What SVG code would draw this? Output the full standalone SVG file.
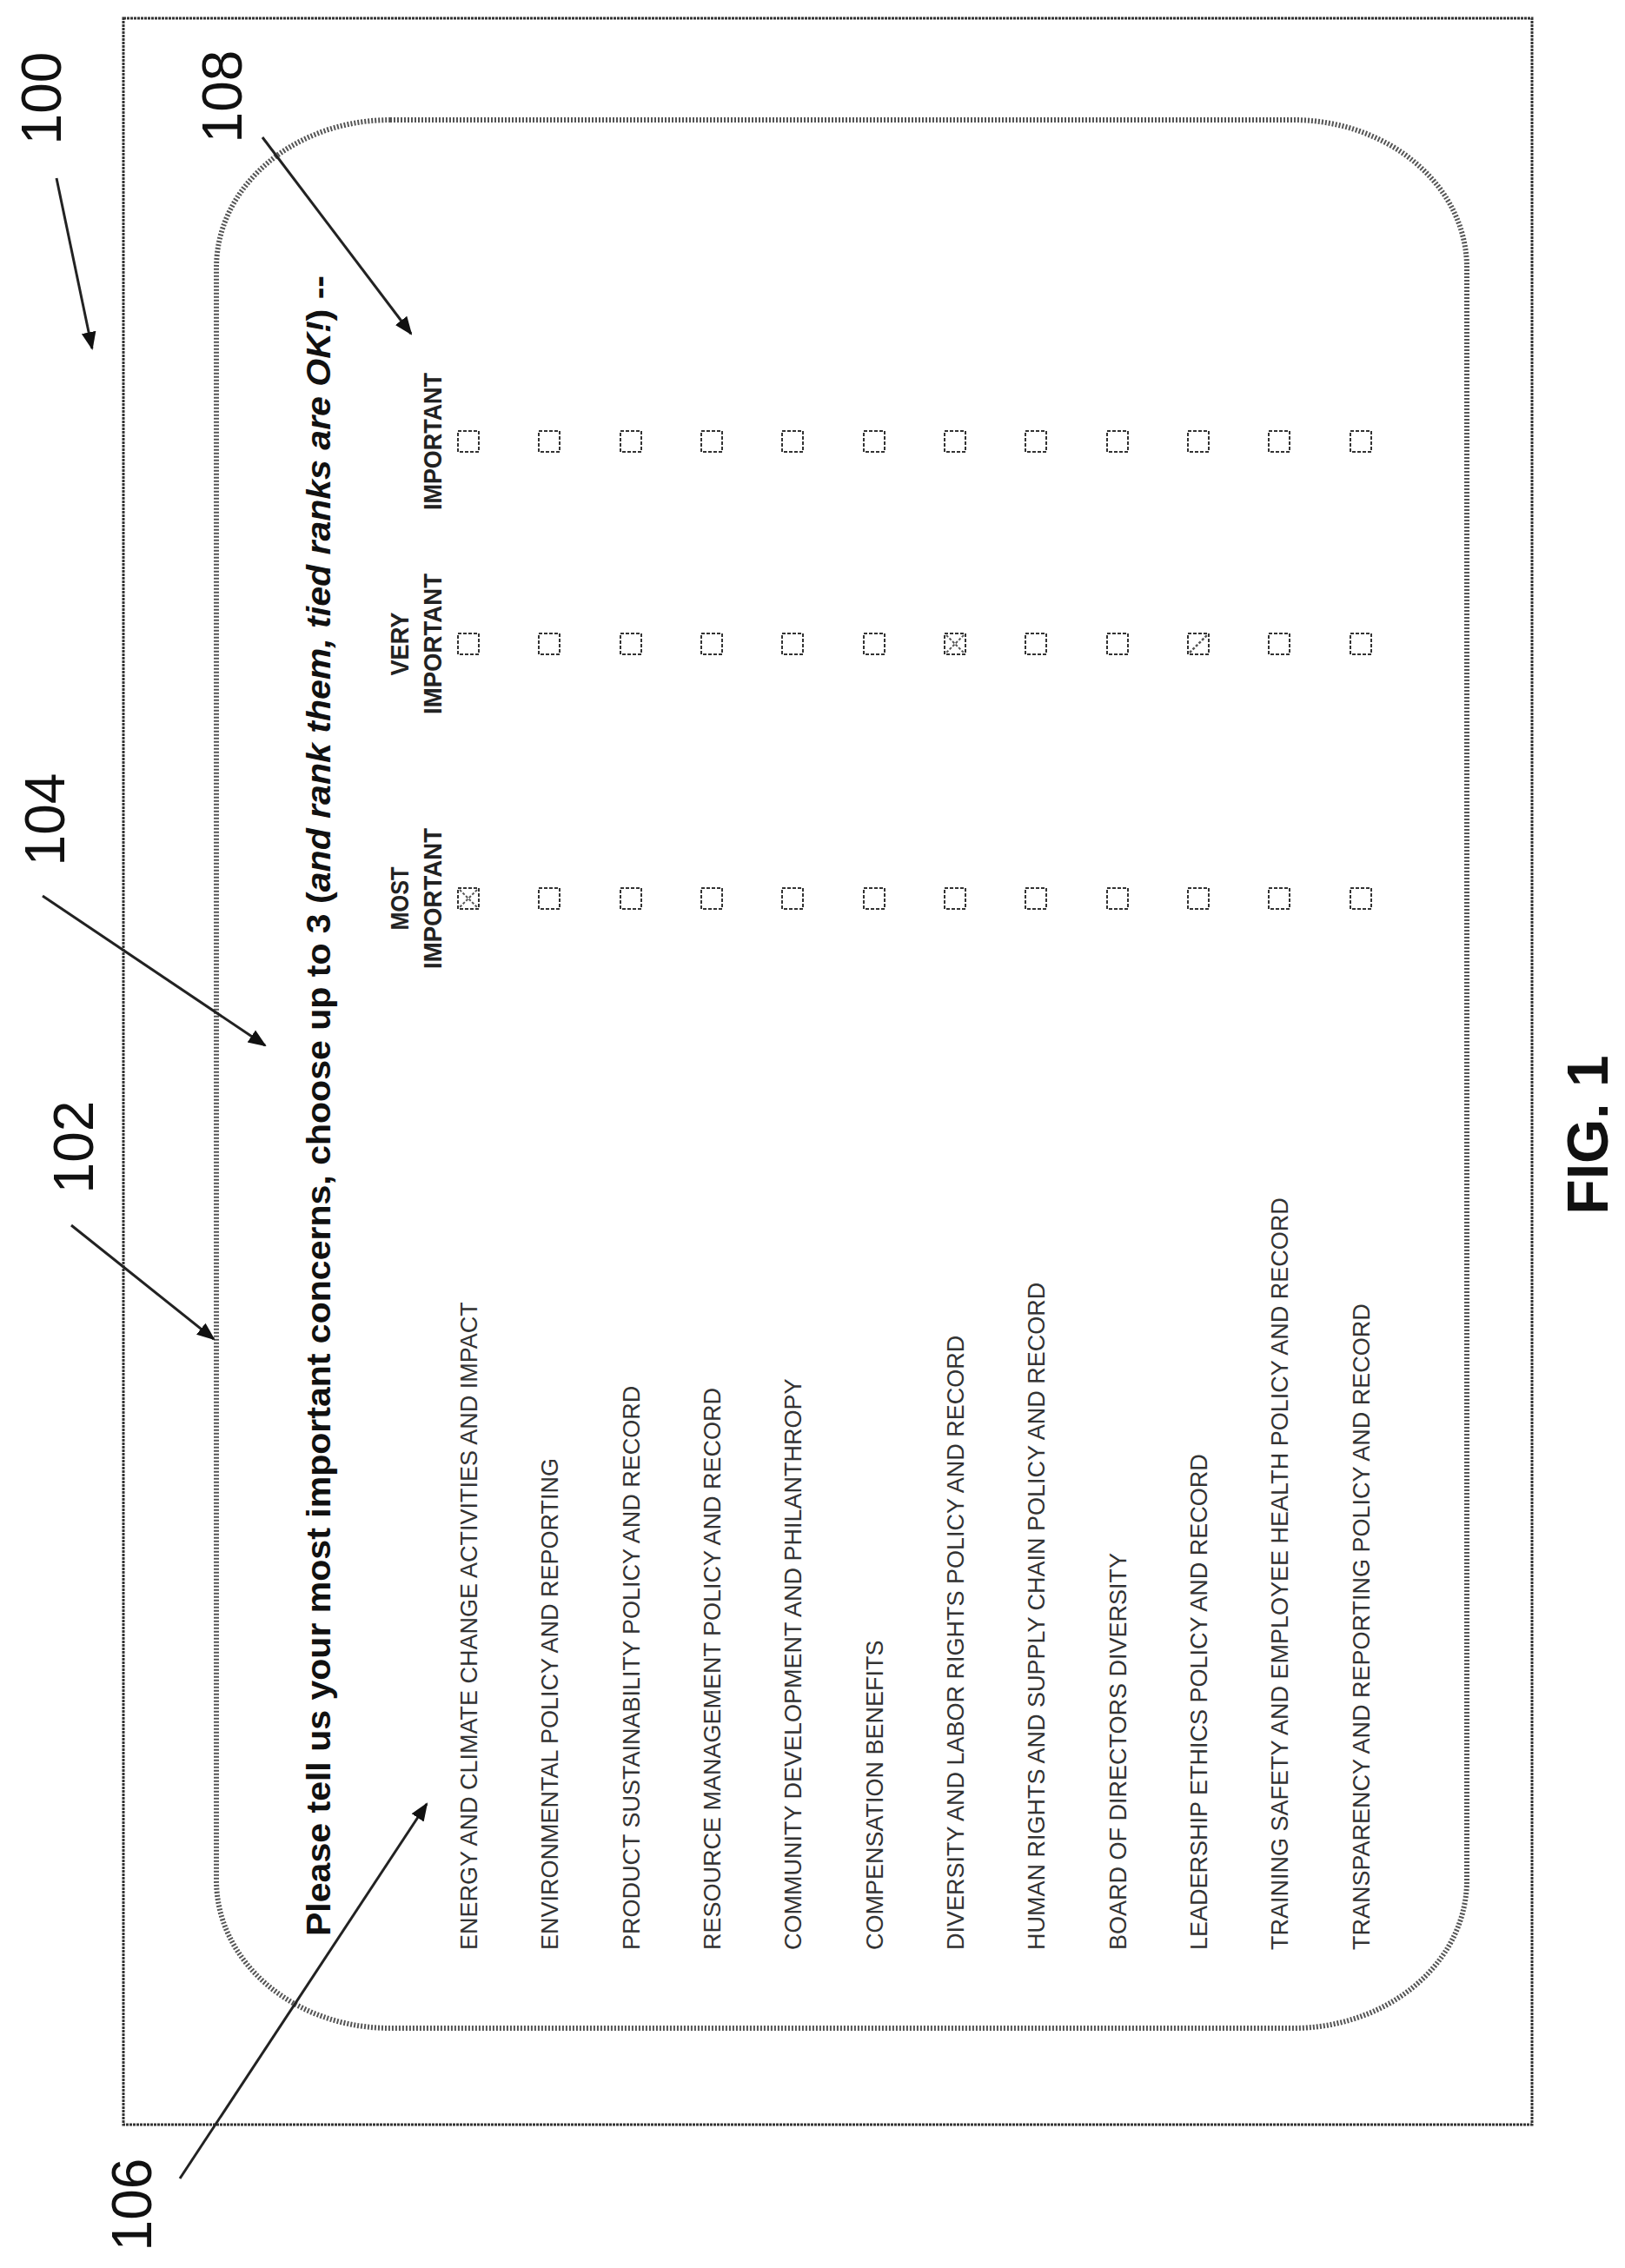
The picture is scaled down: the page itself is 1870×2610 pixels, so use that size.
<svg xmlns="http://www.w3.org/2000/svg" width="1870" height="2610" viewBox="0 0 1870 2610">
<style>
.lbl{font-family:"Liberation Sans",Arial,sans-serif;font-size:27px;fill:#333}
.hdr{font-family:"Liberation Sans",Arial,sans-serif;font-size:30px;font-weight:bold;fill:#222}
.num{font-family:"Liberation Sans",Arial,sans-serif;font-size:64px;fill:#111}
.box{fill:none;stroke:#333;stroke-width:2;stroke-dasharray:4 2}
.arr{stroke:#222;stroke-width:3;fill:none;marker-end:url(#ah)}
</style>
<defs>
<marker id="ah" viewBox="0 0 10 10" refX="9" refY="5" markerWidth="7" markerHeight="7" orient="auto" markerUnits="strokeWidth"><path d="M0,1 L10,5 L0,9 Z" fill="#111"/></marker>
</defs>
<rect width="1870" height="2610" fill="#fff"/>
<g id="frame100"><rect x="142" y="21" width="1621" height="2424" fill="none" stroke="#333" stroke-width="3" stroke-dasharray="3 1"/></g>
<g id="panel102"><rect x="249" y="138" width="1439" height="2196" rx="200" ry="170" fill="none" stroke="#555" stroke-width="6" stroke-dasharray="2 2"/></g>
<g id="title104"><text transform="translate(380,2228) rotate(-90)" font-family="Liberation Sans,Arial,sans-serif" font-size="38" font-weight="bold" fill="#111" textLength="1911" lengthAdjust="spacingAndGlyphs">Please tell us your most important concerns, choose up to 3 (<tspan font-style="italic">and rank them, tied ranks are OK!</tspan>) --</text></g>
<g id="headers108">
<text class="hdr" transform="translate(470,1034) rotate(-90)" text-anchor="middle" textLength="73" lengthAdjust="spacingAndGlyphs">MOST</text>
<text class="hdr" transform="translate(508,1034) rotate(-90)" text-anchor="middle" textLength="162" lengthAdjust="spacingAndGlyphs">IMPORTANT</text>
<text class="hdr" transform="translate(470,741) rotate(-90)" text-anchor="middle" textLength="73" lengthAdjust="spacingAndGlyphs">VERY</text>
<text class="hdr" transform="translate(508,741) rotate(-90)" text-anchor="middle" textLength="162" lengthAdjust="spacingAndGlyphs">IMPORTANT</text>
<text class="hdr" transform="translate(508,508) rotate(-90)" text-anchor="middle" textLength="158" lengthAdjust="spacingAndGlyphs">IMPORTANT</text>
</g>
<g id="rows106">
<text class="lbl" transform="translate(549,2244) rotate(-90)">ENERGY AND CLIMATE CHANGE ACTIVITIES AND IMPACT</text>
<text class="lbl" transform="translate(642,2244) rotate(-90)">ENVIRONMENTAL POLICY AND REPORTING</text>
<text class="lbl" transform="translate(736,2244) rotate(-90)">PRODUCT SUSTAINABILITY POLICY AND RECORD</text>
<text class="lbl" transform="translate(829,2244) rotate(-90)">RESOURCE MANAGEMENT POLICY AND RECORD</text>
<text class="lbl" transform="translate(922,2244) rotate(-90)">COMMUNITY DEVELOPMENT AND PHILANTHROPY</text>
<text class="lbl" transform="translate(1016,2244) rotate(-90)">COMPENSATION BENEFITS</text>
<text class="lbl" transform="translate(1109,2244) rotate(-90)">DIVERSITY AND LABOR RIGHTS POLICY AND RECORD</text>
<text class="lbl" transform="translate(1202,2244) rotate(-90)">HUMAN RIGHTS AND SUPPLY CHAIN POLICY AND RECORD</text>
<text class="lbl" transform="translate(1296,2244) rotate(-90)">BOARD OF DIRECTORS DIVERSITY</text>
<text class="lbl" transform="translate(1389,2244) rotate(-90)">LEADERSHIP ETHICS POLICY AND RECORD</text>
<text class="lbl" transform="translate(1482,2244) rotate(-90)">TRAINING SAFETY AND EMPLOYEE HEALTH  POLICY AND RECORD</text>
<text class="lbl" transform="translate(1576,2244) rotate(-90)">TRANSPARENCY AND REPORTING POLICY AND RECORD</text>
</g>
<g id="checkboxes">
<g id="col-most">
<rect class="box" x="527" y="1022" width="24" height="24"/><rect class="box" x="620" y="1022" width="24" height="24"/><rect class="box" x="714" y="1022" width="24" height="24"/><rect class="box" x="807" y="1022" width="24" height="24"/><rect class="box" x="900" y="1022" width="24" height="24"/><rect class="box" x="994" y="1022" width="24" height="24"/><rect class="box" x="1087" y="1022" width="24" height="24"/><rect class="box" x="1180" y="1022" width="24" height="24"/><rect class="box" x="1274" y="1022" width="24" height="24"/><rect class="box" x="1367" y="1022" width="24" height="24"/><rect class="box" x="1460" y="1022" width="24" height="24"/><rect class="box" x="1554" y="1022" width="24" height="24"/>
<path d="M529,1024 L549,1044 M549,1024 L529,1044" stroke="#555" stroke-width="2" stroke-dasharray="3 2"/>
</g>
<g id="col-very">
<rect class="box" x="527" y="729" width="24" height="24"/><rect class="box" x="620" y="729" width="24" height="24"/><rect class="box" x="714" y="729" width="24" height="24"/><rect class="box" x="807" y="729" width="24" height="24"/><rect class="box" x="900" y="729" width="24" height="24"/><rect class="box" x="994" y="729" width="24" height="24"/><rect class="box" x="1087" y="729" width="24" height="24"/><rect class="box" x="1180" y="729" width="24" height="24"/><rect class="box" x="1274" y="729" width="24" height="24"/><rect class="box" x="1367" y="729" width="24" height="24"/><rect class="box" x="1460" y="729" width="24" height="24"/><rect class="box" x="1554" y="729" width="24" height="24"/>
<path d="M1089,731 L1109,751 M1109,731 L1089,751" stroke="#555" stroke-width="2" stroke-dasharray="3 2"/>
<path d="M1369,751 L1389,731" stroke="#555" stroke-width="2.5" stroke-dasharray="3 2"/>
</g>
<g id="col-important">
<rect class="box" x="527" y="496" width="24" height="24"/><rect class="box" x="620" y="496" width="24" height="24"/><rect class="box" x="714" y="496" width="24" height="24"/><rect class="box" x="807" y="496" width="24" height="24"/><rect class="box" x="900" y="496" width="24" height="24"/><rect class="box" x="994" y="496" width="24" height="24"/><rect class="box" x="1087" y="496" width="24" height="24"/><rect class="box" x="1180" y="496" width="24" height="24"/><rect class="box" x="1274" y="496" width="24" height="24"/><rect class="box" x="1367" y="496" width="24" height="24"/><rect class="box" x="1460" y="496" width="24" height="24"/><rect class="box" x="1554" y="496" width="24" height="24"/>
</g>
</g>
<g id="refs">
<text class="num" transform="translate(70,113) rotate(-90)" text-anchor="middle">100</text>
<text class="num" transform="translate(278,111) rotate(-90)" text-anchor="middle">108</text>
<text class="num" transform="translate(74,943) rotate(-90)" text-anchor="middle">104</text>
<text class="num" transform="translate(107,1320) rotate(-90)" text-anchor="middle">102</text>
<text class="num" transform="translate(174,2537) rotate(-90)" text-anchor="middle">106</text>
<text transform="translate(1850,1306) rotate(-90)" text-anchor="middle" font-family="Liberation Sans,Arial,sans-serif" font-size="66" font-weight="bold" fill="#111">FIG. 1</text>
</g>
<g id="connectors">
<line class="arr" x1="65" y1="205" x2="106" y2="401"/>
<line class="arr" x1="302" y1="158" x2="473" y2="384"/>
<line class="arr" x1="49" y1="1031" x2="305" y2="1203"/>
<line class="arr" x1="82" y1="1410" x2="246" y2="1541"/>
<line class="arr" x1="207" y1="2507" x2="491" y2="2076"/>
</g>
</svg>
